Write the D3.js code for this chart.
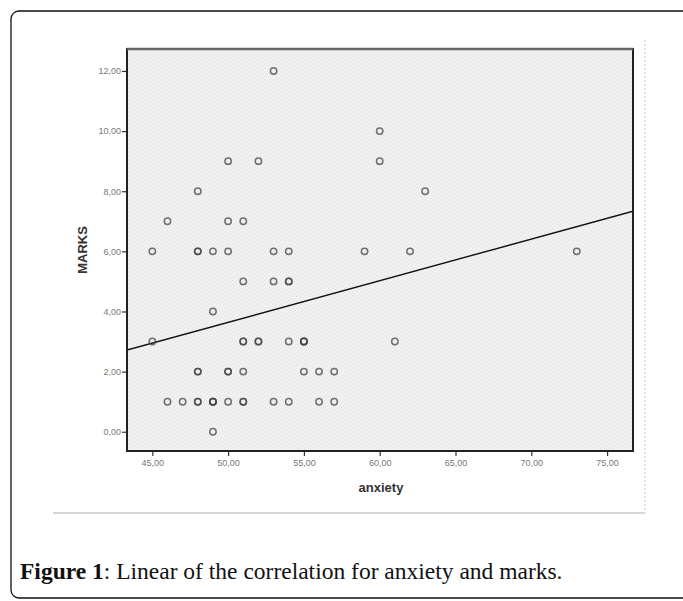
<!DOCTYPE html>
<html>
<head>
<meta charset="utf-8">
<script src="https://cdn.jsdelivr.net/npm/d3@7"></script>
<style>
  body { margin: 0; background: #fff; }
</style>
</head>
<body>
<script>
// scatter of anxiety vs marks
var anxiety = [53, 60, 60, 50, 52, 48, 63, 46, 50, 51,
               45, 48, 49, 50, 53, 54, 59, 62, 73,
               51, 53, 54, 49,
               45, 51, 52, 54, 55, 61,
               48, 50, 51, 55, 56, 57,
               46, 47, 48, 49, 50, 51, 53, 54, 56, 57,
               49]
var marks = [12, 10, 9, 9, 9, 8, 8, 7, 7, 7,
             6, 6, 6, 6, 6, 6, 6, 6, 6,
             5, 5, 5, 4,
             3, 3, 3, 3, 3, 3,
             2, 2, 2, 2, 2, 2,
             1, 1, 1, 1, 1, 1, 1, 1, 1, 1,
             0]
// how many cases sit on each dot (darker dots = more)
var cases = [1, 1, 1, 1, 1, 1, 1, 1, 1, 1,
             1, 2, 1, 1, 1, 1, 1, 1, 1,
             1, 1, 2, 1,
             1, 2, 2, 1, 3, 1,
             2, 2, 1, 1, 1, 1,
             1, 1, 2, 3, 1, 2, 1, 1, 1, 1,
             1]
var xTicks = [45, 50, 55, 60, 65, 70, 75]
var yTicks = [0, 2, 4, 6, 8, 10, 12]
var fitIntercept = -3.28
var fitSlope = 0.1384

var svg = d3.select('body')
    .append('svg')
    .attr('width', 683)
    .attr('height', 601)

// outer figure box
svg.append('rect')
    .attr('x', 11).attr('y', 11)
    .attr('width', 690).attr('height', 587)
    .attr('rx', 8)
    .attr('fill', 'none')
    .attr('stroke', '#111')
    .attr('stroke-width', 1.3)

// edges of the pasted image
svg.append('line')
    .attr('x1', 53).attr('x2', 645).attr('y1', 513).attr('y2', 513)
    .attr('stroke', '#d4d6d4').attr('stroke-width', 2)
svg.append('line')
    .attr('x1', 645).attr('x2', 645).attr('y1', 40).attr('y2', 513)
    .attr('stroke', '#dcdcdc').attr('stroke-width', 1.5)
    .attr('stroke-dasharray', '2,2')

var pLeft = 127, pRight = 633, pTop = 49, pBottom = 451

let Xscale = d3.scaleLinear()
    .domain([43.33, 76.71])
    .range([pLeft, pRight])
let Yscale = d3.scaleLinear()
    .domain([-0.64, 12.73])
    .range([pBottom, pTop])

// stippled grey plot background
var defs = svg.append('defs')
var pat = defs.append('pattern')
    .attr('id', 'stipple')
    .attr('width', 4).attr('height', 4)
    .attr('patternUnits', 'userSpaceOnUse')
pat.append('rect').attr('width', 4).attr('height', 4).attr('fill', '#f2f2f2')
pat.append('rect').attr('x', 0).attr('y', 0).attr('width', 1).attr('height', 1).attr('fill', '#e2e1e5')
pat.append('rect').attr('x', 2).attr('y', 1).attr('width', 1).attr('height', 1).attr('fill', '#e4e6e2')
pat.append('rect').attr('x', 1).attr('y', 3).attr('width', 1).attr('height', 1).attr('fill', '#e5e3e8')
pat.append('rect').attr('x', 3).attr('y', 2).attr('width', 1).attr('height', 1).attr('fill', '#e6e6e3')

defs.append('clipPath').attr('id', 'plotclip')
    .append('rect')
    .attr('x', pLeft).attr('y', pTop)
    .attr('width', pRight - pLeft).attr('height', pBottom - pTop)

svg.append('rect')
    .attr('x', pLeft).attr('y', pTop)
    .attr('width', pRight - pLeft).attr('height', pBottom - pTop)
    .attr('fill', 'url(#stipple)')

let fmt = d => d3.format('.2f')(d).replace('.', ',')

let x_Axis = d3.axisBottom(Xscale)
    .tickValues(xTicks)
    .tickSize(5)
    .tickSizeOuter(0)
    .tickFormat(fmt)
let y_Axis = d3.axisLeft(Yscale)
    .tickValues(yTicks)
    .tickSize(5)
    .tickSizeOuter(0)
    .tickFormat(fmt)

let xAxisGroup = svg.append('g')
    .attr('transform', 'translate(0,' + pBottom + ')')
    .call(x_Axis)
let yAxisGroup = svg.append('g')
    .attr('transform', 'translate(' + pLeft + ',0)')
    .call(y_Axis)

svg.selectAll('.domain').remove()
svg.selectAll('.tick line').attr('stroke', '#333').attr('stroke-width', 1.2)
svg.selectAll('.tick text')
    .attr('fill', '#777')
    .style('font-family', 'Arial, "Liberation Sans", sans-serif')
    .style('font-size', '9px')
xAxisGroup.selectAll('.tick text').attr('dy', '0.71em').attr('y', 9)
yAxisGroup.selectAll('.tick text').attr('x', -6)

// regression line
let x0 = Xscale.domain()[0], x1 = Xscale.domain()[1]
svg.append('line')
    .attr('clip-path', 'url(#plotclip)')
    .attr('x1', Xscale(x0))
    .attr('y1', Yscale(fitIntercept + fitSlope * x0))
    .attr('x2', Xscale(x1))
    .attr('y2', Yscale(fitIntercept + fitSlope * x1))
    .attr('stroke', '#111')
    .attr('stroke-width', 1.4)

// one circle per case, overlapping ones get darker
var points = []
anxiety.forEach((a, i) => {
    for (let k = 0; k < cases[i]; k++) {
        points.push({ x: a, y: marks[i] })
    }
})

svg.append('g')
    .selectAll('circle')
    .data(points)
    .enter()
    .append('circle')
    .attr('cx', d => Xscale(d.x))
    .attr('cy', d => Yscale(d.y))
    .attr('r', 3.2)
    .attr('fill', 'none')
    .attr('stroke', '#444')
    .attr('stroke-width', 1.5)
    .attr('opacity', 0.75)

// plot frame
svg.append('rect')
    .attr('x', pLeft).attr('y', pTop)
    .attr('width', pRight - pLeft).attr('height', pBottom - pTop)
    .attr('fill', 'none')
    .attr('stroke', '#222')
    .attr('stroke-width', 2)
svg.append('line')
    .attr('x1', pLeft).attr('x2', pRight).attr('y1', pTop).attr('y2', pTop)
    .attr('stroke', '#666').attr('stroke-width', 2.5)

// axis titles
svg.append('text')
    .attr('x', (pLeft + pRight) / 2 + 1)
    .attr('y', 492)
    .attr('text-anchor', 'middle')
    .style('font-family', 'Arial, "Liberation Sans", sans-serif')
    .style('font-size', '13px')
    .style('font-weight', 'bold')
    .attr('fill', '#333')
    .text('anxiety')

svg.append('text')
    .attr('transform', 'translate(87,' + (pTop + pBottom) / 2 + ') rotate(-90)')
    .attr('text-anchor', 'middle')
    .style('font-family', 'Arial, "Liberation Sans", sans-serif')
    .style('font-size', '13px')
    .style('font-weight', 'bold')
    .attr('fill', '#333')
    .text('MARKS')

// caption
let caption = svg.append('text')
    .attr('x', 20)
    .attr('y', 579)
    .style('font-family', '"Liberation Serif", "DejaVu Serif", serif')
    .style('font-size', '23.5px')
    .attr('fill', '#111')
caption.append('tspan')
    .style('font-weight', 'bold')
    .text('Figure 1')
caption.append('tspan')
    .text(': Linear of the correlation for anxiety and marks.')
</script>
</body>
</html>
